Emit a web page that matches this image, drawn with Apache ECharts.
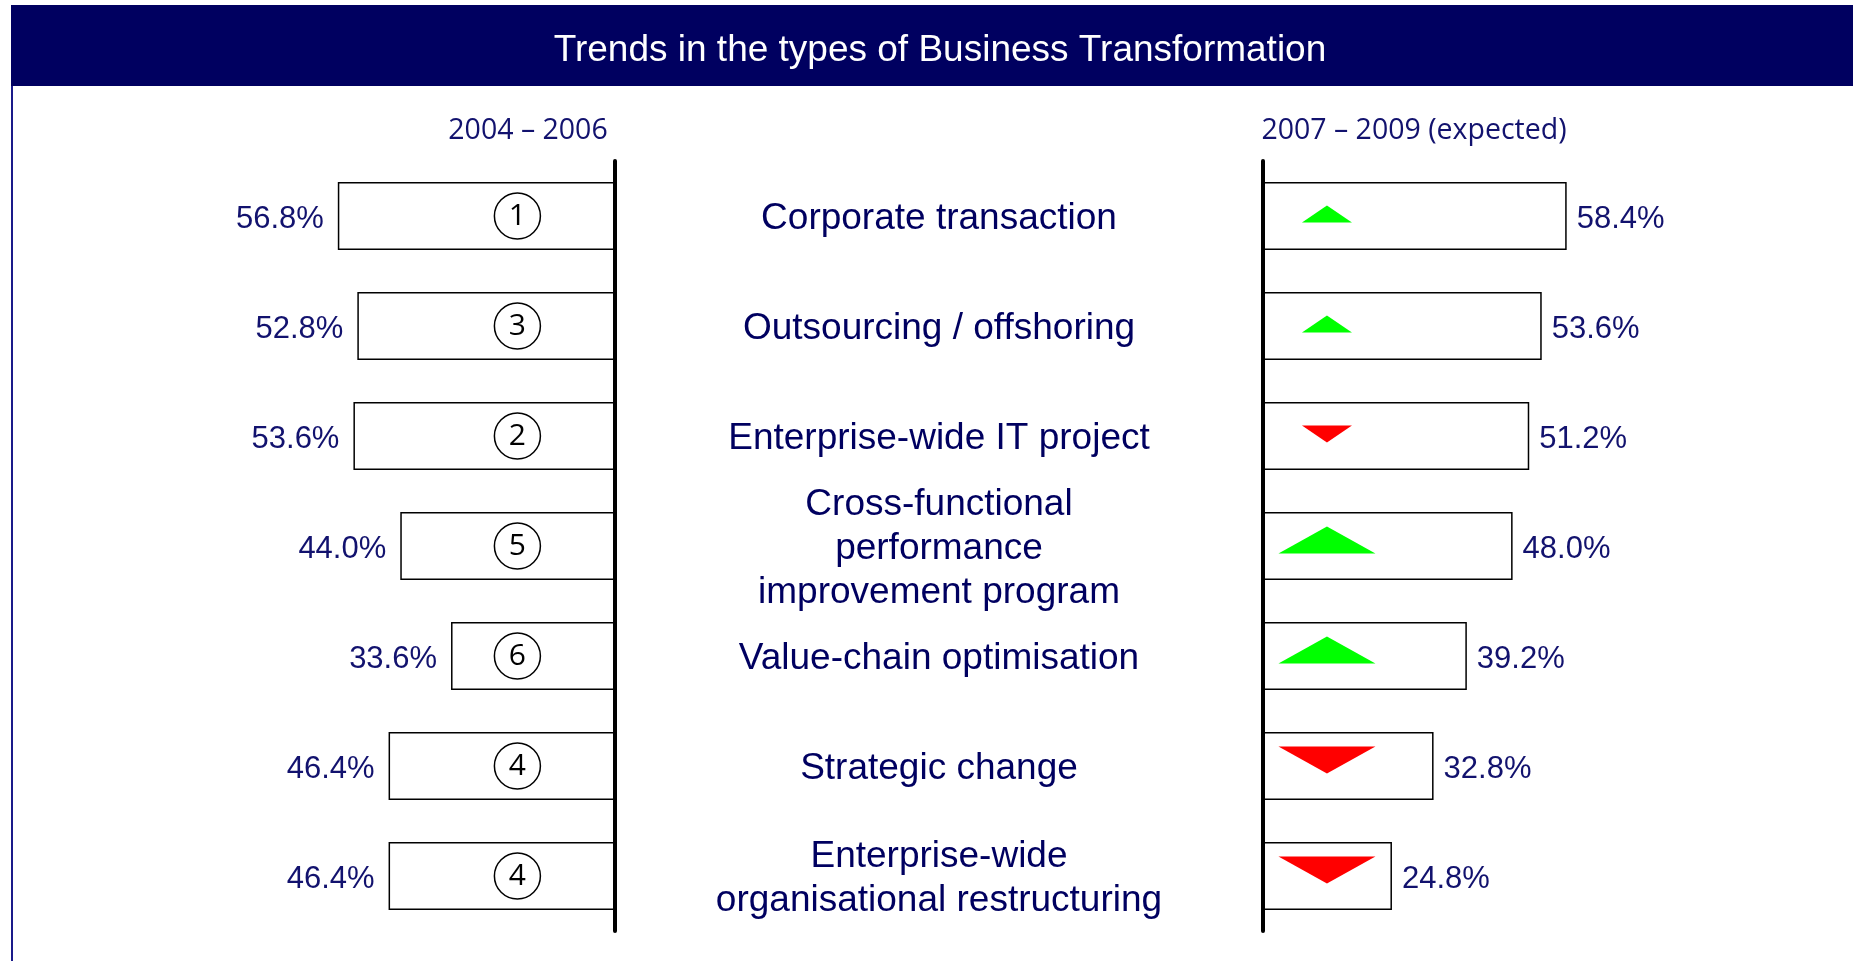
<!DOCTYPE html>
<html style="height: 100%">

<head>
  <meta charset="utf-8" />
  <title>Trends in the types of Business Transformation</title>
  <script src="https://cdn.jsdelivr.net/npm/echarts@6/dist/echarts.min.js"></script>
</head>

<body style="height: 100%; margin: 0; overflow: hidden; background: #fff">
  <div id="container" style="height: 961px; width: 1853px"></div>
  <script>
    // data
    const titleText = "Trends in the types of Business Transformation";
    const periods = ["2004 – 2006", "2007 – 2009 (expected)"];
    const categories = [
      "Corporate transaction",
      "Outsourcing / offshoring",
      "Enterprise-wide IT project",
      "Cross-functional\nperformance\nimprovement program",
      "Value-chain optimisation",
      "Strategic change",
      "Enterprise-wide\norganisational restructuring",
    ];
    const share2004 = [56.8, 52.8, 53.6, 44.0, 33.6, 46.4, 46.4];
    const share2007 = [58.4, 53.6, 51.2, 48.0, 39.2, 32.8, 24.8];
    const rank2004 = [1, 3, 2, 5, 6, 4, 4];

    const NAVY = "#000060";
    const LABEL = "#12126e";
    const RANK_X = 20;     // where the rank circle sits on the left axis
    const TREND_X = 12.3;  // where the arrow sits on the right axis

    var dom = document.getElementById("container");
    var myChart = echarts.init(dom, null, { renderer: "canvas" });

    const pctLabel = p => p.value.toFixed(1) + "%";

    const trendData = share2007.map((v, i) => {
      const d = v - share2004[i];
      const big = Math.abs(d) >= 3;
      return {
        value: [TREND_X, categories[i]],
        symbolRotate: d >= 0 ? 0 : 180,
        symbolSize: big ? [97, 27] : [50, 17],
        symbolOffset: [0, big ? -6 : -2],
        itemStyle: { color: d >= 0 ? "#00ff00" : "#ff0000", opacity: 1 },
      };
    });

    var option = {
      animation: false,
      title: [
        {
          text: titleText, left: 940, top: 29, textAlign: "center", padding: 0,
          textStyle: { color: "#fff", fontFamily: "Arial, 'Liberation Sans'", fontWeight: "normal", fontSize: 37, lineHeight: 44 },
        },
        {
          text: periods[0], left: 528, top: 115, textAlign: "center", padding: 0,
          textStyle: { color: LABEL, fontFamily: "'Open Sans'", fontWeight: "normal", fontSize: 28.5, lineHeight: 32 },
        },
        {
          text: periods[1], left: 1414, top: 115, textAlign: "center", padding: 0,
          textStyle: { color: LABEL, fontFamily: "'Open Sans'", fontWeight: "normal", fontSize: 28.5, lineHeight: 32 },
        },
      ],
      graphic: [
        { type: "rect", z: -1, shape: { x: 11, y: 5, width: 1842, height: 81 }, style: { fill: NAVY } },
        { type: "line", shape: { x1: 12, y1: 86, x2: 12, y2: 961 }, style: { stroke: "#1a1a8a", lineWidth: 2 } },
      ],
      grid: [
        { left: 127, width: 488, top: 161, height: 770 },
        { left: 1263, width: 520, top: 161, height: 770 },
        // label-only grid, a few px lower so the centre text sits like the original
        { left: 1263, width: 520, top: 164, height: 770 },
      ],
      xAxis: [
        { type: "value", gridIndex: 0, min: 0, max: 100, inverse: true, show: false },
        { type: "value", gridIndex: 1, min: 0, max: 100, show: false },
        { type: "value", gridIndex: 2, min: 0, max: 100, show: false },
      ],
      yAxis: [
        {
          type: "category", gridIndex: 0, data: categories, inverse: true, position: "right", z: 10,
          axisLine: { onZero: false, lineStyle: { color: "#000", width: 4 } },
          axisTick: { show: false }, axisLabel: { show: false }, splitLine: { show: false },
        },
        {
          type: "category", gridIndex: 1, data: categories, inverse: true, position: "left", z: 10,
          axisLine: { onZero: false, lineStyle: { color: "#000", width: 4 } },
          axisTick: { show: false }, axisLabel: { show: false }, splitLine: { show: false },
        },
        {
          type: "category", gridIndex: 2, data: categories, inverse: true, position: "left",
          axisLine: { show: false }, axisTick: { show: false }, splitLine: { show: false },
          axisLabel: {
            margin: 324, align: "center", color: NAVY, fontSize: 37, lineHeight: 44,
            fontFamily: "Arial, 'Liberation Sans'",
          },
        },
      ],
      series: [
        {
          type: "bar", xAxisIndex: 0, yAxisIndex: 0, data: share2004, barWidth: 68,
          itemStyle: { color: "#fff", borderColor: "#000", borderWidth: 1.5 },
          label: { show: true, position: "left", distance: 14, offset: [0, 3], formatter: pctLabel, color: LABEL, fontSize: 31, fontFamily: "Arial, 'Liberation Sans'" },
        },
        {
          type: "bar", xAxisIndex: 1, yAxisIndex: 1, data: share2007, barWidth: 68,
          itemStyle: { color: "#fff", borderColor: "#000", borderWidth: 1.5 },
          label: { show: true, position: "right", distance: 10, offset: [0, 3], formatter: pctLabel, color: LABEL, fontSize: 31, fontFamily: "Arial, 'Liberation Sans'" },
        },
        {
          type: "scatter", xAxisIndex: 0, yAxisIndex: 0, symbol: "circle", symbolSize: 46,
          data: rank2004.map((r, i) => [RANK_X, categories[i], r]),
          itemStyle: { color: "#fff", borderColor: "#000", borderWidth: 1.5, opacity: 1 },
          label: { show: true, position: "inside", formatter: p => p.value[2], color: "#000", fontSize: 30, fontFamily: "'Open Sans'" },
        },
        {
          type: "scatter", xAxisIndex: 1, yAxisIndex: 1, symbol: "triangle",
          data: trendData,
        },
      ],
    };
    myChart.setOption(option);
    window.addEventListener("resize", myChart.resize);
  </script>
</body>

</html>
